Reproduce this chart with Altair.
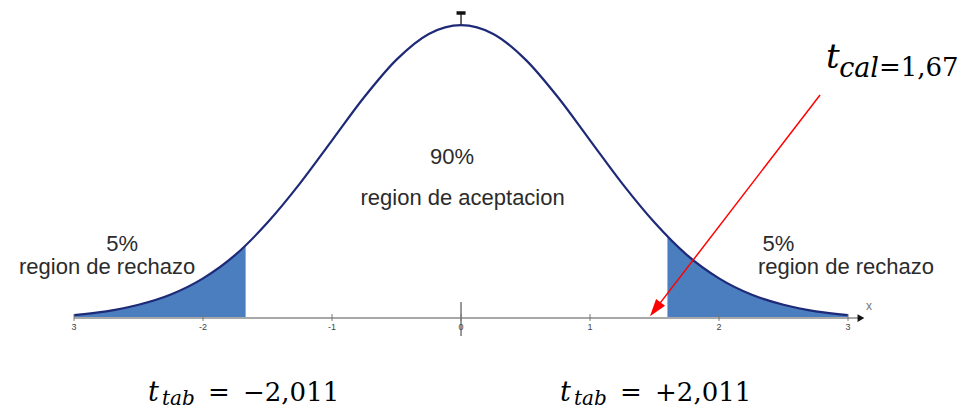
import altair as alt
import pandas as pd

# ---- data ----
curve_x = [-3, -2.75, -2.5, -2.25, -2, -1.75, -1.5, -1.25, -1, -0.75, -0.5, -0.25, 0,
           0.25, 0.5, 0.75, 1, 1.25, 1.5, 1.75, 2, 2.25, 2.5, 2.75, 3]
curve_y = [0.004, 0.009, 0.018, 0.032, 0.054, 0.086, 0.130, 0.183, 0.242, 0.301, 0.352, 0.387, 0.399,
           0.387, 0.352, 0.301, 0.242, 0.183, 0.130, 0.086, 0.054, 0.032, 0.018, 0.009, 0.004]

left_x = [-3, -2.75, -2.5, -2.25, -2, -1.75, -1.67]
left_y = [0.004, 0.009, 0.018, 0.032, 0.054, 0.086, 0.099]
right_x = [1.6, 1.75, 2, 2.25, 2.5, 2.75, 3]
right_y = [0.111, 0.086, 0.054, 0.032, 0.018, 0.009, 0.004]

tick_vals = [-3, -2, -1, 0, 1, 2, 3]
tick_labels = ["3", "-2", "-1", "0", "1", "2", "3"]

XD = [-3.512, 3.868]
YD = [-0.1253, 0.4223]
xs = alt.Scale(domain=XD, nice=False, zero=False)
ys = alt.Scale(domain=YD, nice=False, zero=False)
X = lambda f: alt.X(f, type="quantitative", scale=xs, axis=None)
Y = lambda f: alt.Y(f, type="quantitative", scale=ys, axis=None)

curve = pd.DataFrame({"x": curve_x, "y": curve_y})
tails = pd.concat([
    pd.DataFrame({"x": left_x, "y": left_y, "side": "L"}),
    pd.DataFrame({"x": right_x, "y": right_y, "side": "R"}),
])
tails["y0"] = 0.0
ticks = pd.DataFrame({"x": tick_vals, "lab": tick_labels})
ticks["ty"] = 0.0054
ticks["ty2"] = -0.004
ticks["ly"] = -0.0125

NAVY = "#1e2a78"
FILL = "#4a7ebf"
GRAY = "#a8a8a8"
TXT = "#2b2b2b"

area = alt.Chart(tails).mark_area(color=FILL, interpolate="monotone", opacity=1).encode(
    x=X("x"), y=Y("y"), y2="y0", detail="side:N")

line = alt.Chart(curve).mark_line(color=NAVY, strokeWidth=2.2, interpolate="monotone").encode(
    x=X("x"), y=Y("y"))

axis_df = pd.DataFrame({"x": [-3.0], "x2": [3.08], "y": [0.0]})
axis_line = alt.Chart(axis_df).mark_rule(color=GRAY, strokeWidth=2).encode(
    x=X("x"), x2="x2", y=Y("y"))

axis_arrow = alt.Chart(pd.DataFrame({"x": [3.1], "y": [0.0]})).mark_point(
    shape="triangle-right", filled=True, color="#111", size=60, opacity=1).encode(
    x=X("x"), y=Y("y"))

x_lab = alt.Chart(pd.DataFrame({"x": [3.14], "y": [0.016], "t": ["x"]})).mark_text(
    font="Liberation Sans", fontSize=12, color="#777", align="left").encode(
    x=X("x"), y=Y("y"), text="t")

small_ticks = alt.Chart(ticks).mark_rule(color="#777", strokeWidth=1).encode(
    x=X("x"), y=Y("ty"), y2="ty2")

tick_text = alt.Chart(ticks).mark_text(
    font="Liberation Sans", fontSize=9, color="#444", baseline="middle").encode(
    x=X("x"), y=Y("ly"), text="lab")

zero_tick = alt.Chart(pd.DataFrame({"x": [0.0], "y": [0.0218], "y2": [-0.0245]})).mark_rule(
    color="#777", strokeWidth=1.5).encode(x=X("x"), y=Y("y"), y2="y2")

peak_stem = alt.Chart(pd.DataFrame({"x": [0.0], "y": [0.399], "y2": [0.4155]})).mark_rule(
    color="#333", strokeWidth=1.5).encode(x=X("x"), y=Y("y"), y2="y2")
peak_bar = alt.Chart(pd.DataFrame({"x": [-0.035], "x2": [0.035], "y": [0.4155]})).mark_rule(
    color="#111", strokeWidth=3.5).encode(x=X("x"), x2="x2", y=Y("y"))

labels = pd.DataFrame({
    "x": [-0.070, 0.012, -2.628, -2.744, 2.460, 2.984],
    "y": [0.2098, 0.154, 0.0913, 0.060, 0.0913, 0.060],
    "t": ["90%", "region de aceptacion", "5%", "region de rechazo", "5%", "region de rechazo"],
})
label_text = alt.Chart(labels).mark_text(
    font="Liberation Sans", fontSize=22, color=TXT, baseline="alphabetic", align="center").encode(
    x=X("x"), y=Y("y"), text="t")

# red arrow
arrow_line = alt.Chart(pd.DataFrame({"x": [2.783], "y": [0.3038], "x2": [1.513], "y2": [0.0135]})).mark_rule(
    color="#ff0000", strokeWidth=1.5).encode(x=X("x"), y=Y("y"), x2="x2", y2="y2")
arrow_head = alt.Chart(pd.DataFrame({"x": [1.513], "y": [0.0135]})).mark_point(
    shape="M0,-1L0.55,0.7L-0.55,0.7Z", filled=True, color="#ff0000", opacity=1,
    size=420, angle=217.5).encode(x=X("x"), y=Y("y"))

# math-style annotations
def mtext(x, y, s, size, italic, align="left"):
    return alt.Chart(pd.DataFrame({"x": [x], "y": [y], "t": [s]})).mark_text(
        font="DejaVu Serif", fontSize=size, fontStyle="italic" if italic else "normal",
        color="#000", align=align, baseline="alphabetic").encode(
        x=X("x"), y=Y("y"), text="t")

math = [
    mtext(2.829, 0.341, "t", 34, True),
    mtext(3.240, 0.3283, "cal", 27, True, "right"),
    mtext(3.240, 0.3297, "=1,67", 26, False),
    mtext(-2.426, -0.1131, "t", 27, True),
    mtext(-2.318, -0.1185, "tab", 20, True),
    mtext(-1.961, -0.1131, "=", 26, False),
    mtext(-1.690, -0.1131, "\u22122,011", 26, False),
    mtext(0.767, -0.1131, "t", 27, True),
    mtext(0.876, -0.1185, "tab", 20, True),
    mtext(1.233, -0.1131, "=", 26, False),
    mtext(1.504, -0.1131, "+2,011", 26, False),
]

chart = alt.layer(
    area, line, axis_line, small_ticks, zero_tick, tick_text, axis_arrow, x_lab,
    peak_stem, peak_bar, label_text, arrow_line, arrow_head, *math
).properties(
    width=952, height=402, padding=0, background="white",
    autosize=alt.AutoSizeParams(type="none"),
).configure_view(strokeWidth=0)

chart.save("out.html", embed_options={"renderer": "svg", "actions": False})
